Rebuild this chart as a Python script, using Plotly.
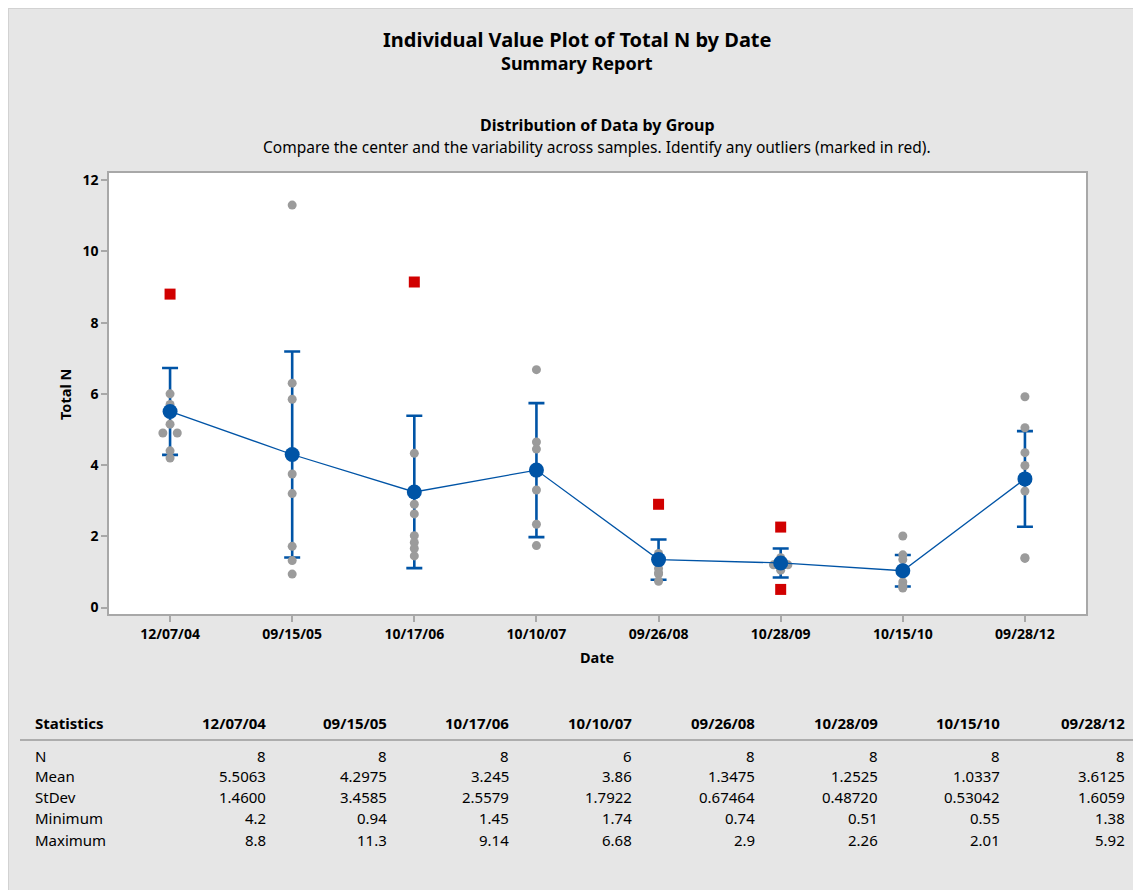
import plotly.graph_objects as go
import math

# ---------------- data ----------------
dates = ["12/07/04", "09/15/05", "10/17/06", "10/10/07", "09/26/08", "10/28/09", "10/15/10", "09/28/12"]

vals_120704 = [6.0, 5.7, 5.15, 4.9, 4.9, 4.4, 4.2]
vals_091505 = [11.3, 6.3, 5.85, 3.75, 3.2, 1.72, 1.32, 0.94]
vals_101706 = [4.33, 2.9, 2.63, 2.02, 1.83, 1.66, 1.45]
vals_101007 = [6.68, 4.65, 4.45, 3.3, 2.34, 1.74]
vals_092608 = [1.52, 1.35, 1.25, 1.1, 0.98, 0.94, 0.74]
vals_102809 = [1.4, 1.3, 1.2, 1.2, 1.1, 1.05]
vals_101510 = [2.01, 1.48, 1.35, 0.95, 0.72, 0.62, 0.59, 0.55]
vals_092812 = [5.92, 5.05, 4.35, 3.99, 3.54, 3.27, 1.40, 1.38]

out_120704 = [8.8]
out_091505 = []
out_101706 = [9.14]
out_101007 = []
out_092608 = [2.9]
out_102809 = [2.26, 0.51]
out_101510 = []
out_092812 = []

stat_n = [8, 8, 8, 6, 8, 8, 8, 8]
stat_mean = [5.5063, 4.2975, 3.245, 3.86, 1.3475, 1.2525, 1.0337, 3.6125]
stat_sd = [1.4600, 3.4585, 2.5579, 1.7922, 0.67464, 0.48720, 0.53042, 1.6059]

txt_n = ["8", "8", "8", "6", "8", "8", "8", "8"]
txt_mean = ["5.5063", "4.2975", "3.245", "3.86", "1.3475", "1.2525", "1.0337", "3.6125"]
txt_sd = ["1.4600", "3.4585", "2.5579", "1.7922", "0.67464", "0.48720", "0.53042", "1.6059"]
txt_min = ["4.2", "0.94", "1.45", "1.74", "0.74", "0.51", "0.55", "1.38"]
txt_max = ["8.8", "11.3", "9.14", "6.68", "2.9", "2.26", "2.01", "5.92"]

y_ticks = [0, 2, 4, 6, 8, 10, 12]

groups = [vals_120704, vals_091505, vals_101706, vals_101007, vals_092608, vals_102809, vals_101510, vals_092812]
outs = [out_120704, out_091505, out_101706, out_101007, out_092608, out_102809, out_101510, out_092812]

# t quantiles (0.975) for 95% CI of the mean
t975 = {5: 2.570582, 7: 2.364624}

# ---------------- layout geometry (reference pixel coords) ----------------
PAGE_W, PAGE_H = 1141, 890
BODY = 8                      # browser default body margin
FW, FH = PAGE_W - BODY, PAGE_H - BODY
L, R, T, B = 109, 1086, 173, 614
W, H = R - L, B - T


def px(x):
    return (x - L) / W


def py(y):
    return (B - y) / H


def dodge(values, thr=0.015, step=0.118):
    """Spread (near-)identical values horizontally, symmetric around 0."""
    offs = [0.0] * len(values)
    used = [False] * len(values)
    for i, v in enumerate(values):
        if used[i]:
            continue
        cl = [j for j in range(len(values)) if not used[j] and abs(values[j] - v) < thr]
        k = len(cl)
        for n, j in enumerate(cl):
            offs[j] = (n - (k - 1) / 2) * step
            used[j] = True
    return offs


GRAY = "#9b9b9b"
RED = "#d10000"
BLUE = "#0054a6"
FONT = "Noto Sans"

fig = go.Figure()

# CI error bars
ci = [t975[n - 1] * s / math.sqrt(n) for n, s in zip(stat_n, stat_sd)]
fig.add_trace(go.Scatter(
    x=list(range(len(dates))), y=stat_mean, mode="markers",
    marker=dict(size=1, opacity=0, color=BLUE),
    error_y=dict(type="data", array=ci, symmetric=True, color=BLUE, thickness=2.6, width=8),
    showlegend=False, hoverinfo="skip"))

# individual values
gx, gy, rx, ry = [], [], [], []
for i, (g, o) in enumerate(zip(groups, outs)):
    allv = g + o
    offs = dodge(allv)
    for v, d in zip(allv, offs):
        if v in o:
            rx.append(i + d)
            ry.append(v)
        else:
            gx.append(i + d)
            gy.append(v)

fig.add_trace(go.Scatter(x=gx, y=gy, mode="markers",
                         marker=dict(size=9, color=GRAY, line=dict(width=0)),
                         showlegend=False))
fig.add_trace(go.Scatter(x=rx, y=ry, mode="markers",
                         marker=dict(size=11, color=RED, symbol="square", line=dict(width=0)),
                         showlegend=False))

# means
fig.add_trace(go.Scatter(x=list(range(len(dates))), y=stat_mean, mode="lines+markers",
                         line=dict(color=BLUE, width=1.3),
                         marker=dict(size=15, color=BLUE),
                         showlegend=False))

ann = []


def add_text(x, y, text, size=14, bold=False, xanchor="center", angle=0):
    ann.append(dict(x=px(x), y=py(y), xref="paper", yref="paper", text=text, showarrow=False,
                    xanchor=xanchor, yanchor="middle", textangle=angle,
                    font=dict(family=FONT, size=size, color="#000000",
                              weight="bold" if bold else "normal")))


add_text(577, 40, "Individual Value Plot of Total N by Date", size=20, bold=True)
add_text(577, 63, "Summary Report", size=18, bold=True)
add_text(597, 125, "Distribution of Data by Group", size=16, bold=True)
add_text(597, 147, "Compare the center and the variability across samples. Identify any outliers (marked in red).", size=15.5)
add_text(65, 395, "Total N", size=14.5, bold=True, angle=-90)
add_text(597, 657, "Date", size=14.5, bold=True)

# statistics table
col_right = [268, 389, 511, 634, 757, 880, 1002, 1127]
row_y = [756, 776, 797, 818, 840]
row_names = ["N", "Mean", "StDev", "Minimum", "Maximum"]
row_txt = [txt_n, txt_mean, txt_sd, txt_min, txt_max]

add_text(33, 723, "Statistics", size=15, bold=True, xanchor="left")
for c, d in zip(col_right, dates):
    add_text(c, 723, d, size=15, bold=True, xanchor="right")
for ry_, name, vals in zip(row_y, row_names, row_txt):
    add_text(33, ry_, name, size=15, xanchor="left")
    for c, v in zip(col_right, vals):
        add_text(c, ry_, v, size=15, xanchor="right")

shapes = [
    dict(type="line", xref="paper", yref="paper", x0=px(20), x1=px(PAGE_W), y0=py(740), y1=py(740),
         line=dict(color="#9a9a9a", width=1.5)),
    dict(type="line", xref="paper", yref="paper", x0=px(8), x1=px(PAGE_W), y0=py(8.5), y1=py(8.5),
         line=dict(color="#d2d2d2", width=1)),
    dict(type="line", xref="paper", yref="paper", x0=px(8.5), x1=px(8.5), y0=py(8), y1=py(PAGE_H),
         line=dict(color="#d2d2d2", width=1)),
]

fig.update_layout(
    width=FW, height=FH,
    margin=dict(l=L - BODY, r=PAGE_W - R, t=T - BODY, b=PAGE_H - B, pad=0),
    paper_bgcolor="#e6e6e6", plot_bgcolor="white",
    showlegend=False,
    annotations=ann, shapes=shapes,
    xaxis=dict(range=[-0.5, 7.5], tickmode="array", tickvals=list(range(len(dates))), ticktext=dates,
               showline=True, mirror=True, linecolor="#a8a8a8", linewidth=1.5,
               ticks="outside", ticklen=6, tickcolor="#a8a8a8", tickwidth=1.5,
               showgrid=False, zeroline=False,
               tickfont=dict(family=FONT, size=14, color="#000000", weight="bold")),
    yaxis=dict(range=[-0.18, 12.2], tickmode="array", tickvals=y_ticks,
               showline=True, mirror=True, linecolor="#a8a8a8", linewidth=1.5,
               ticks="outside", ticklen=6, tickcolor="#a8a8a8", tickwidth=1.5,
               showgrid=False, zeroline=False,
               tickfont=dict(family=FONT, size=14, color="#000000", weight="bold")),
)

fig.write_html("out.html")
